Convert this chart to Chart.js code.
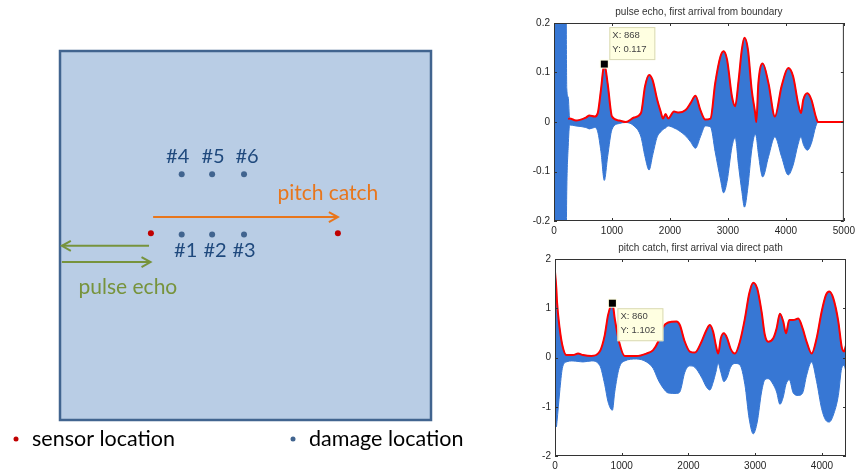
<!DOCTYPE html>
<html>
<head>
<meta charset="utf-8">
<script src="https://cdn.jsdelivr.net/npm/chart.js@4.4.0/dist/chart.umd.min.js"></script>
<style>
  body { margin: 0; background: #fff; }
  canvas { position: absolute; }
  #plate { left: 0; top: 0; }
  #echoChart { left: 520px; top: 0; }
  #catchChart { left: 520px; top: 235px; }
</style>
</head>
<body>
<canvas id="plate" width="520" height="470"></canvas>
<canvas id="echoChart" width="339" height="235"></canvas>
<canvas id="catchChart" width="339" height="235"></canvas>
<script>
  // plate diagram, plate is 0..100 in both directions
  const sensorX = [24.5, 74.9];
  const sensorY = [50.6, 50.6];
  const damageX = [32.8, 41.0, 49.6, 32.8, 41.0, 49.6];
  const damageY = [50.3, 50.3, 50.3, 66.6, 66.6, 66.6];
  const damageLabels = ['#1', '#2', '#3', '#4', '#5', '#6'];
  const pitchArrow = [25.1, 55.0, 74.9, 55.0];
  const echoOutArrow = [24.0, 47.2, 0.5, 47.2];
  const echoBackArrow = [0.5, 42.8, 24.4, 42.8];

  // pulse echo signal (envelopes of the blue trace, red = upper envelope)
  const topX = [0, 205, 220, 245, 270, 380, 550, 610, 700, 755, 810, 868, 925, 1000, 1125, 1240, 1380, 1500, 1570, 1640, 1700, 1780, 1840, 1880, 1925, 1970, 2070, 2150, 2270, 2355, 2440, 2525, 2610, 2700, 2780, 2870, 2925, 2985, 3070, 3125, 3185, 3240, 3285, 3345, 3410, 3470, 3490, 3525, 3600, 3700, 3810, 3925, 4040, 4125, 4210, 4260, 4300, 4370, 4440, 4515, 4555, 5000];
  const topUpper = [0.3, 0.3, 0.068, 0.05, 0.007, 0.003, 0.009, 0.013, 0.011, 0.018, 0.065, 0.117, 0.078, 0.011, 0.003, 0.0, 0.009, 0.018, 0.072, 0.095, 0.085, 0.045, 0.021, 0.007, 0.016, 0.007, 0.021, 0.019, 0.024, 0.038, 0.053, 0.024, 0.005, 0.007, 0.078, 0.132, 0.143, 0.126, 0.051, 0.032, 0.085, 0.146, 0.170, 0.146, 0.065, 0.018, 0.0, 0.078, 0.118, 0.078, 0.011, 0.072, 0.109, 0.092, 0.038, 0.018, 0.045, 0.058, 0.045, 0.011, 0, 0];
  const topEnv = [null, null, null, 0.006, 0.007, 0.003, 0.009, 0.013, 0.011, 0.018, 0.065, 0.117, 0.078, 0.011, 0.003, 0.0, 0.009, 0.018, 0.072, 0.095, 0.085, 0.045, 0.021, 0.007, 0.016, 0.007, 0.021, 0.019, 0.024, 0.038, 0.053, 0.024, 0.005, 0.007, 0.078, 0.132, 0.143, 0.126, 0.051, 0.032, 0.085, 0.146, 0.170, 0.146, 0.065, 0.018, 0.0, 0.078, 0.118, 0.078, 0.011, 0.072, 0.109, 0.092, 0.038, 0.018, 0.045, 0.058, 0.045, 0.011, 0, 0];
  const topLower = [-0.3, -0.3, -0.14, -0.05, -0.006, -0.008, -0.011, -0.014, -0.011, -0.02, -0.06, -0.118, -0.07, -0.015, -0.003, -0.001, -0.008, -0.03, -0.07, -0.097, -0.068, -0.03, -0.02, -0.015, -0.012, -0.008, -0.012, -0.017, -0.028, -0.04, -0.053, -0.03, -0.008, -0.01, -0.06, -0.115, -0.143, -0.12, -0.05, -0.032, -0.09, -0.14, -0.172, -0.131, -0.057, -0.025, -0.03, -0.064, -0.111, -0.07, -0.03, -0.07, -0.107, -0.087, -0.045, -0.03, -0.045, -0.057, -0.043, -0.009, 0, 0];
  const topTicksX = [0, 1000, 2000, 3000, 4000, 5000];
  const topTicksY = [-0.2, -0.1, 0, 0.1, 0.2];

  // pitch catch signal
  const botX = [0, 20, 30, 70, 110, 170, 270, 345, 420, 545, 670, 745, 795, 860, 895, 960, 1045, 1220, 1370, 1470, 1545, 1620, 1695, 1820, 1870, 1945, 2020, 2095, 2195, 2270, 2320, 2370, 2410, 2445, 2485, 2530, 2580, 2630, 2695, 2770, 2845, 2910, 2970, 3030, 3095, 3145, 3195, 3270, 3320, 3370, 3420, 3460, 3510, 3570, 3645, 3710, 3770, 3845, 3920, 3995, 4060, 4110, 4170, 4245, 4295, 4330, 4360];
  const botEnv = [1.74, 1.4, 1.13, 0.59, 0.25, 0.05, 0.05, 0.08, 0.05, 0.03, 0.12, 0.45, 0.86, 1.102, 0.79, 0.32, 0.03, 0.03, 0.08, 0.15, 0.32, 0.62, 0.71, 0.73, 0.66, 0.32, 0.12, 0.1, 0.32, 0.56, 0.66, 0.52, 0.25, 0.08, 0.39, 0.49, 0.39, 0.18, 0.08, 0.32, 0.79, 1.3, 1.52, 1.4, 0.93, 0.45, 0.32, 0.39, 0.59, 0.89, 0.73, 0.49, 0.76, 0.76, 0.79, 0.59, 0.32, 0.08, 0.39, 0.93, 1.27, 1.34, 1.2, 0.73, 0.22, 0.12, 0.25];
  const botLower = [-1.3, -1.41, -1.3, -0.7, -0.22, -0.09, -0.07, -0.08, -0.09, -0.07, -0.16, -0.55, -0.9, -1.07, -0.7, -0.22, -0.07, -0.03, -0.09, -0.22, -0.45, -0.62, -0.72, -0.73, -0.7, -0.3, -0.17, -0.2, -0.4, -0.6, -0.66, -0.5, -0.3, -0.12, -0.3, -0.49, -0.4, -0.2, -0.12, -0.15, -0.55, -1.25, -1.55, -1.31, -0.7, -0.45, -0.43, -0.55, -0.7, -0.95, -0.8, -0.55, -0.45, -0.72, -0.77, -0.72, -0.36, -0.09, -0.49, -1.04, -1.28, -1.31, -1.17, -0.77, -0.22, -0.16, -0.29];
  const botTicksX = [0, 1000, 2000, 3000, 4000];
  const botTicksY = [-2, -1, 0, 1, 2];

  const DIAG_FONT = '"Lato", "Noto Sans", sans-serif';
  const AX_FONT = '"Liberation Sans", Arial, sans-serif';

  function pts(xs, ys) { return xs.map((x, i) => ({x: x, y: ys[i]})); }

  function arrow(ctx, x1, y1, x2, y2, color) {
    const dir = Math.sign(x2 - x1);
    ctx.strokeStyle = color;
    ctx.lineWidth = 2;
    ctx.beginPath();
    ctx.moveTo(x1, y1);
    ctx.lineTo(x2, y2);
    ctx.stroke();
    ctx.beginPath();
    ctx.moveTo(x2 - dir * 9, y2 - 5);
    ctx.lineTo(x2, y2);
    ctx.lineTo(x2 - dir * 9, y2 + 5);
    ctx.stroke();
  }

  const platePlugin = {
    id: 'platePlugin',
    beforeDatasetsDraw(chart) {
      const ctx = chart.ctx, a = chart.chartArea;
      ctx.save();
      ctx.fillStyle = '#b9cde5';
      ctx.fillRect(a.left, a.top, a.right - a.left, a.bottom - a.top);
      ctx.strokeStyle = '#41648f';
      ctx.lineWidth = 2.5;
      ctx.strokeRect(a.left, a.top, a.right - a.left, a.bottom - a.top);
      const xs = chart.scales.x, ys = chart.scales.y;
      const px = v => xs.getPixelForValue(v), py = v => ys.getPixelForValue(v);
      arrow(ctx, px(pitchArrow[0]), py(pitchArrow[1]), px(pitchArrow[2]), py(pitchArrow[3]), '#e8761c');
      arrow(ctx, px(echoOutArrow[0]), py(echoOutArrow[1]), px(echoOutArrow[2]), py(echoOutArrow[3]), '#77933c');
      arrow(ctx, px(echoBackArrow[0]), py(echoBackArrow[1]), px(echoBackArrow[2]), py(echoBackArrow[3]), '#77933c');
      ctx.restore();
    },
    afterDatasetsDraw(chart) {
      const ctx = chart.ctx, a = chart.chartArea;
      const xs = chart.scales.x, ys = chart.scales.y;
      ctx.save();
      ctx.font = '20px ' + DIAG_FONT;
      ctx.textAlign = 'center';
      ctx.textBaseline = 'middle';
      ctx.fillStyle = '#1f497d';
      const nudge = [4, 3, 0, -4, 1, 3];
      damageLabels.forEach((t, i) => {
        const up = damageY[i] > 60;
        ctx.fillText(t, xs.getPixelForValue(damageX[i]) + nudge[i], ys.getPixelForValue(damageY[i]) + (up ? -18 : 16));
      });
      ctx.font = '21px ' + DIAG_FONT;
      ctx.fillStyle = '#e8761c';
      ctx.fillText('pitch catch', xs.getPixelForValue(72.2), ys.getPixelForValue(61.5));
      ctx.fillStyle = '#77933c';
      ctx.fillText('pulse echo', xs.getPixelForValue(18.3), ys.getPixelForValue(36.1));

      // legend under the plate
      const ly = a.bottom + 19;
      ctx.font = '21.5px ' + DIAG_FONT;
      ctx.textAlign = 'left';
      ctx.fillStyle = '#c00000';
      ctx.beginPath(); ctx.arc(16, ly, 2.5, 0, Math.PI * 2); ctx.fill();
      ctx.fillStyle = '#41648f';
      ctx.beginPath(); ctx.arc(293, ly, 2.5, 0, Math.PI * 2); ctx.fill();
      ctx.fillStyle = '#000';
      ctx.fillText('sensor location', 32, ly);
      ctx.fillText('damage location', 309, ly);
      ctx.restore();
    }
  };

  new Chart(document.getElementById('plate'), {
    type: 'scatter',
    data: {
      datasets: [
        { data: pts(sensorX, sensorY), pointRadius: 3, pointBackgroundColor: '#c00000', pointBorderWidth: 0 },
        { data: pts(damageX, damageY), pointRadius: 3, pointBackgroundColor: '#41648f', pointBorderWidth: 0 }
      ]
    },
    options: {
      responsive: false,
      animation: false,
      layout: { padding: { left: 60, right: 89, top: 51, bottom: 50 } },
      plugins: { legend: { display: false }, tooltip: { enabled: false } },
      scales: {
        x: { type: 'linear', min: 0, max: 100, display: false },
        y: { type: 'linear', min: 0, max: 100, display: false }
      }
    },
    plugins: [platePlugin]
  });

  // matlab-like axes box, inward ticks, title and data tip
  const matlabBox = {
    id: 'matlabBox',
    afterDatasetsDraw(chart, args, opts) {
      const ctx = chart.ctx, a = chart.chartArea;
      const xs = chart.scales.x, ys = chart.scales.y;
      ctx.save();
      ctx.strokeStyle = '#333';
      ctx.lineWidth = 1;
      ctx.strokeRect(a.left + 0.5, a.top + 0.5, a.right - a.left - 1, a.bottom - a.top - 1);
      ctx.beginPath();
      xs.ticks.forEach(t => {
        const x = Math.round(xs.getPixelForValue(t.value)) + 0.5;
        ctx.moveTo(x, a.bottom); ctx.lineTo(x, a.bottom - 3);
        ctx.moveTo(x, a.top); ctx.lineTo(x, a.top + 3);
      });
      ys.ticks.forEach(t => {
        const y = Math.round(ys.getPixelForValue(t.value)) + 0.5;
        ctx.moveTo(a.left, y); ctx.lineTo(a.left + 3, y);
        ctx.moveTo(a.right, y); ctx.lineTo(a.right - 3, y);
      });
      ctx.stroke();

      ctx.fillStyle = '#333';
      ctx.font = '10px ' + AX_FONT;
      ctx.textAlign = 'center';
      ctx.textBaseline = 'middle';
      ctx.fillText(opts.title, (a.left + a.right) / 2, a.top - 11);

      // data tip
      const mx = xs.getPixelForValue(opts.tipX), my = ys.getPixelForValue(opts.tipY);
      const bx = mx + 5, by = opts.tipAbove ? my - 37 : my + 5;
      ctx.fillStyle = '#ffffe1';
      ctx.strokeStyle = '#d9d9b5';
      ctx.fillRect(bx, by, 46, 33);
      ctx.strokeRect(bx + 0.5, by + 0.5, 45, 32);
      ctx.fillStyle = '#444';
      ctx.font = '9.5px ' + AX_FONT;
      ctx.textAlign = 'left';
      ctx.fillText('X: ' + opts.tipX, bx + 3, by + 8);
      ctx.fillText('Y: ' + opts.tipY, bx + 3, by + 22);
      ctx.fillStyle = '#ffffe1';
      ctx.fillRect(mx - 4.5, my - 4.5, 9, 9);
      ctx.fillStyle = '#000';
      ctx.fillRect(mx - 3.5, my - 3.5, 7, 7);
      ctx.restore();
    }
  };

  function signalChart(id, xs, env, upper, lower, ticksX, xMax, ticksY, title, tip) {
    const yMax = ticksY[ticksY.length - 1];
    return new Chart(document.getElementById(id), {
      type: 'line',
      data: {
        datasets: [
          { data: pts(xs, env), borderColor: '#ff0000', borderWidth: 2, pointRadius: 0, fill: false, cubicInterpolationMode: 'monotone' },
          { data: pts(xs, upper), borderColor: '#3777d4', backgroundColor: '#3777d4', borderWidth: 1, pointRadius: 0, fill: '+1', cubicInterpolationMode: 'monotone' },
          { data: pts(xs, lower), borderColor: '#3777d4', borderWidth: 1, pointRadius: 0, fill: false, cubicInterpolationMode: 'monotone' }
        ]
      },
      options: {
        responsive: false,
        animation: false,
        layout: { padding: { left: 0, right: 13, top: tip.padTop, bottom: 0 } },
        plugins: {
          legend: { display: false },
          tooltip: { enabled: false },
          matlabBox: { title: title, tipX: tip.x, tipY: tip.y, tipAbove: tip.above }
        },
        scales: {
          x: {
            type: 'linear', min: 0, max: xMax,
            grid: { display: false, drawTicks: false },
            border: { display: false },
            ticks: { padding: 4, color: '#262626', font: { family: AX_FONT, size: 10 }, callback: v => String(v) },
            afterBuildTicks(s) { s.ticks = ticksX.map(v => ({ value: v })); },
            afterFit(s) { s.height = 14; }
          },
          y: {
            type: 'linear', min: -yMax, max: yMax,
            grid: { display: false, drawTicks: false },
            border: { display: false },
            ticks: { padding: 4, color: '#262626', font: { family: AX_FONT, size: 10 }, callback: v => String(v) },
            afterBuildTicks(s) { s.ticks = ticksY.map(v => ({ value: v })); },
            afterFit(s) { s.width = tip.yWidth; }
          }
        }
      },
      plugins: [matlabBox]
    });
  }

  signalChart('echoChart', topX, topEnv, topUpper, topLower, topTicksX, 5000, topTicksY,
    'pulse echo, first arrival from boundary', { x: 868, y: 0.117, above: true, padTop: 23, yWidth: 34 });
  signalChart('catchChart', botX, botEnv, botEnv, botLower, botTicksX, 4360, botTicksY,
    'pitch catch, first arrival via direct path', { x: 860, y: 1.102, above: false, padTop: 24, yWidth: 35 });
</script>
</body>
</html>
